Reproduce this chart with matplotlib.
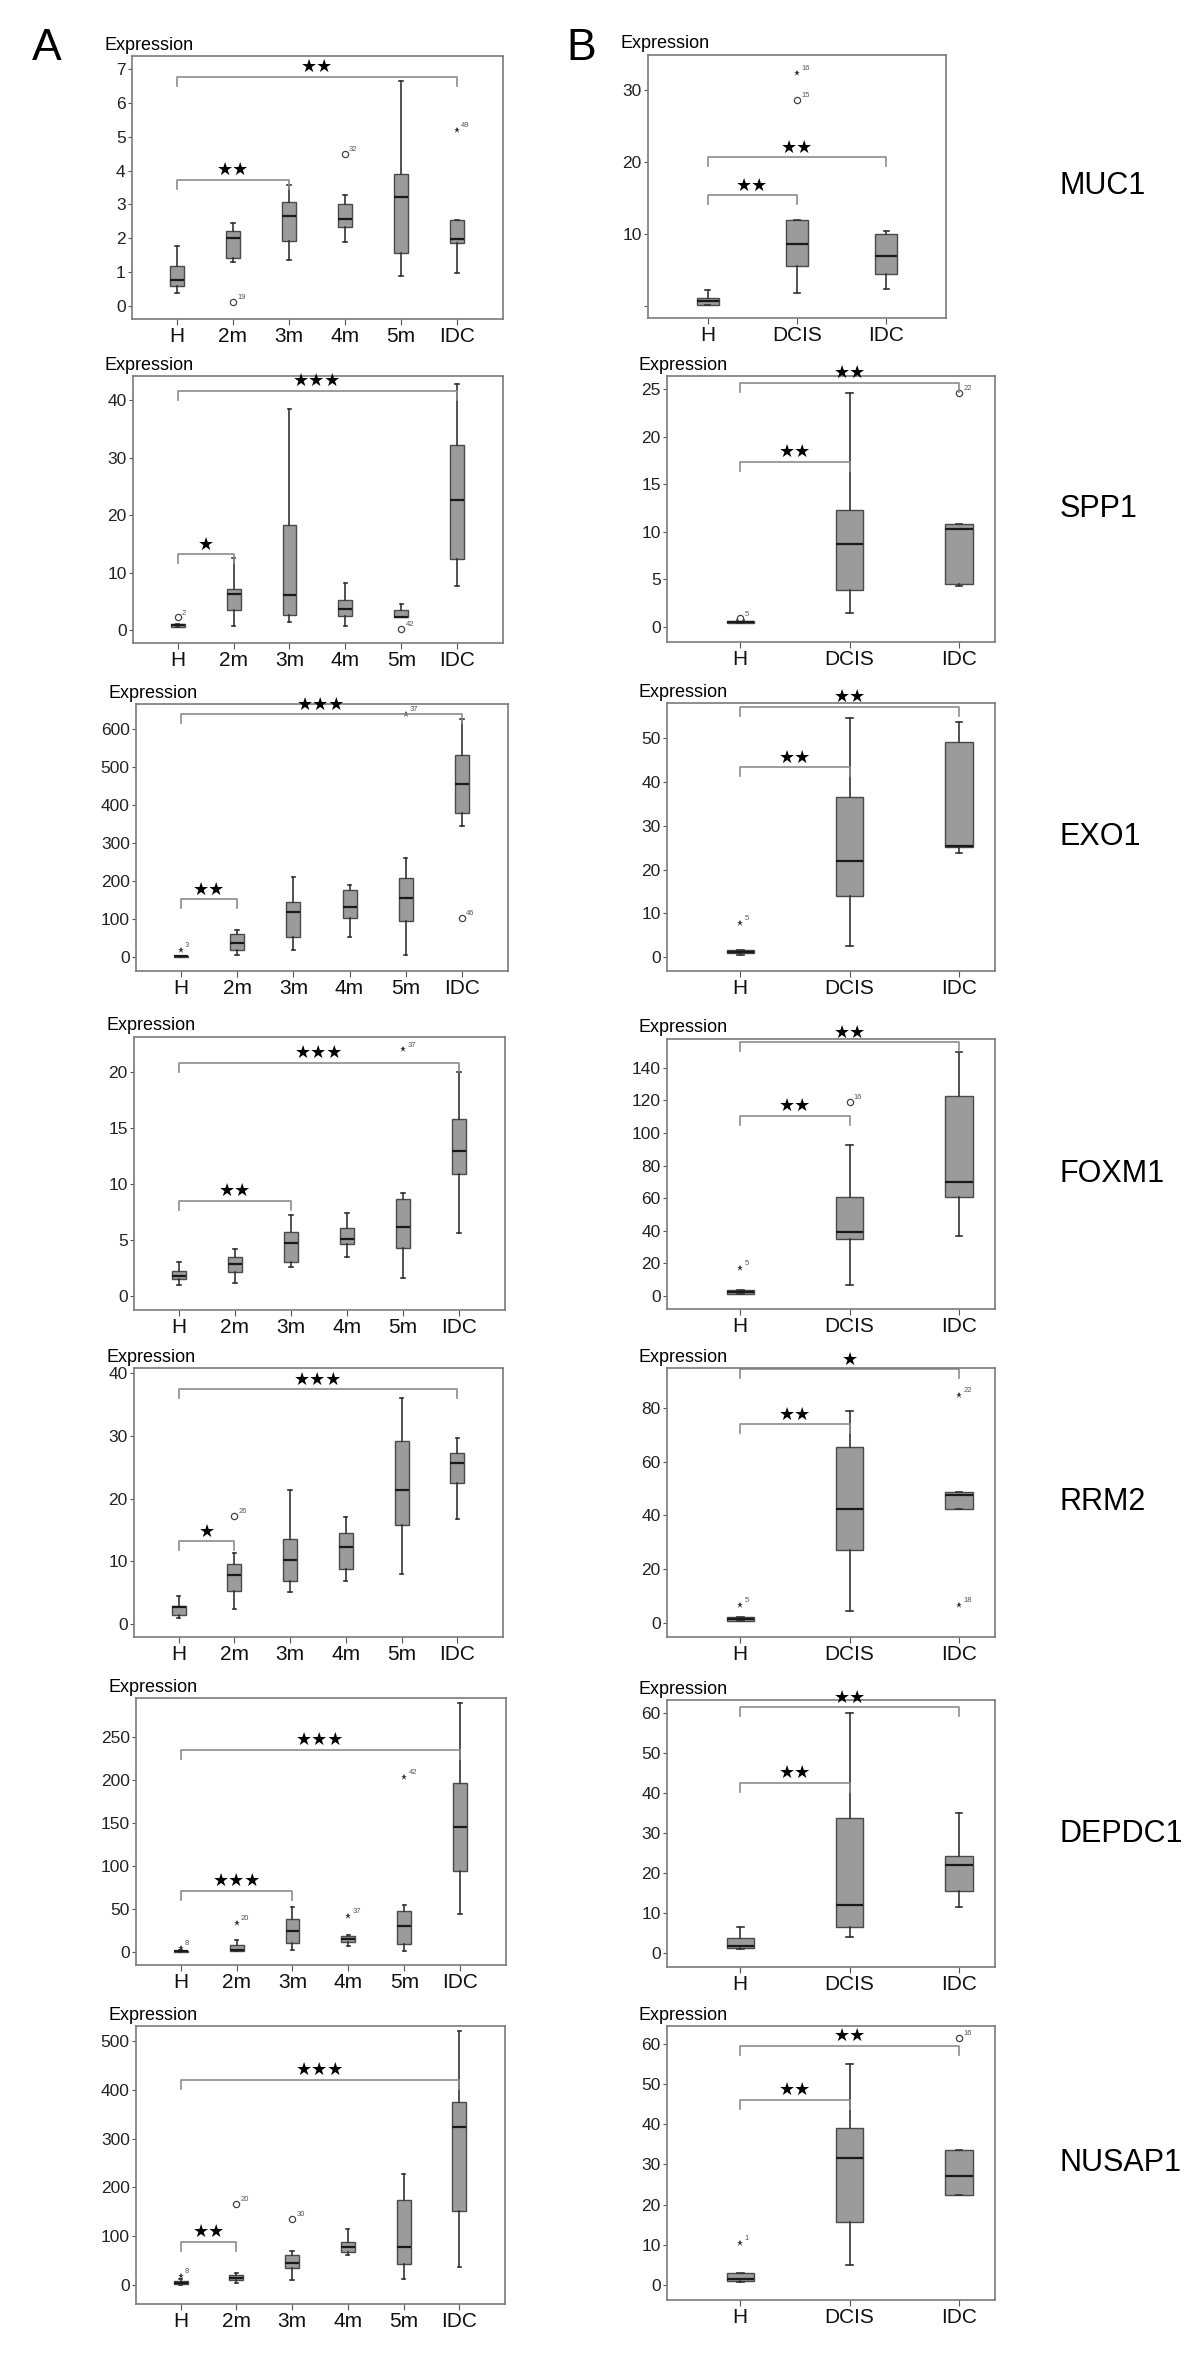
import matplotlib.pyplot as plt

plt.rcParams['font.family'] = ['Liberation Sans', 'DejaVu Sans']

W, H = 1200, 2361

stages_a = ['H', '2m', '3m', '4m', '5m', 'IDC']
stages_b = ['H', 'DCIS', 'IDC']
genes = ['MUC1', 'SPP1', 'EXO1', 'FOXM1', 'RRM2', 'DEPDC1', 'NUSAP1']

# box stats per group: (whisker low, q1, median, q3, whisker high)
muc1_a = [(0.38, 0.6, 0.78, 1.17, 1.78), (1.3, 1.43, 2.0, 2.22, 2.45), (1.35, 1.93, 2.65, 3.08, 3.58),
          (1.9, 2.33, 2.58, 3.02, 3.27), (0.9, 1.57, 3.22, 3.9, 6.65), (0.97, 1.85, 1.97, 2.53, 2.55)]
spp1_a = [(0.5, 0.6, 0.85, 1.0, 1.1), (0.7, 3.4, 6.3, 7.1, 12.6), (1.45, 2.55, 6.15, 18.2, 38.4),
          (0.7, 2.5, 3.6, 5.2, 8.1), (2.2, 2.2, 2.3, 3.5, 4.6), (7.7, 12.3, 22.6, 32.2, 42.8)]
exo1_a = [(0, 0.5, 1.5, 2.5, 3), (5, 19, 37, 60, 70), (17, 53, 118, 145, 210),
          (52, 102, 131, 177, 190), (6, 95, 155, 208, 260), (343, 379, 455, 531, 625)]
foxm1_a = [(1.0, 1.5, 1.8, 2.27, 3.07), (1.13, 2.1, 2.86, 3.5, 4.23), (2.56, 3.07, 4.77, 5.7, 7.18),
           (3.52, 4.62, 5.07, 6.1, 7.36), (1.64, 4.26, 6.17, 8.64, 9.15), (5.63, 10.9, 12.9, 15.8, 20.0)]
rrm2_a = [(1.0, 1.5, 2.7, 2.8, 4.4), (2.4, 5.2, 7.8, 9.6, 11.3), (5.1, 6.9, 10.2, 13.5, 21.4),
          (6.9, 8.8, 12.2, 14.5, 17.0), (7.9, 15.7, 21.3, 29.1, 36.0), (16.8, 22.4, 25.7, 27.2, 29.7)]
depdc1_a = [(0, 0.4, 1.0, 1.2, 2.0), (0.8, 0.8, 2.0, 8.5, 13.6), (2.7, 10.5, 24, 38.4, 52),
            (6.6, 11.2, 15.5, 19, 19.4), (0.8, 9.7, 30.2, 47.3, 55), (44, 94, 145, 196, 289)]
nusap1_a = [(0, 1, 4, 8, 12), (5, 10, 15, 20, 25), (10, 35, 46, 62, 70),
            (62, 68, 77, 88, 114), (12, 43, 77, 175, 228), (37, 151, 323, 375, 520)]

muc1_b = [(0.1, 0.2, 0.7, 1.1, 2.2), (1.8, 5.6, 8.6, 12.0, 12.0), (2.3, 4.5, 7.0, 10.0, 10.4)]
spp1_b = [(0.4, 0.45, 0.55, 0.65, 0.7), (1.5, 3.9, 8.7, 12.3, 24.6), (4.3, 4.55, 10.3, 10.85, 10.85)]
exo1_b = [(0.4, 0.9, 1.15, 1.7, 1.7), (2.5, 13.9, 22.0, 36.5, 54.7), (23.9, 25.2, 25.5, 49.1, 53.7)]
foxm1_b = [(1.0, 1.2, 2.3, 3.7, 3.7), (6.6, 34.8, 39.1, 60.9, 92.4), (36.5, 60.9, 69.7, 122.5, 149.6)]
rrm2_b = [(0.7, 0.9, 1.5, 2.1, 2.1), (4.3, 27.0, 42.5, 65.5, 78.9), (42.5, 42.5, 47.5, 48.7, 48.7)]
depdc1_b = [(1.0, 1.2, 1.8, 3.7, 6.5), (3.9, 6.5, 12.0, 33.7, 60), (11.6, 15.5, 21.9, 24.3, 35.0)]
nusap1_b = [(0.8, 1.0, 1.5, 3.0, 3.0), (5.0, 15.7, 31.5, 39, 55), (22.5, 22.5, 27, 33.7, 33.7)]

# outliers: (group, value, marker, case number)
muc1_a_out = [(1, 0.13, 'o', '19'), (3, 4.5, 'o', '32'), (5, 5.2, '*', '49')]
spp1_a_out = [(0, 2.2, 'o', '2'), (4, 0.2, 'o', '42')]
exo1_a_out = [(0, 19, '*', '3'), (4, 640, '*', '37'), (5, 103, 'o', '46')]
foxm1_a_out = [(4, 22.0, '*', '37')]
rrm2_a_out = [(1, 17.2, 'o', '26')]
depdc1_a_out = [(0, 4.7, '*', '8'), (1, 34, '*', '20'), (3, 42, '*', '37'), (4, 203.5, '*', '42')]
nusap1_a_out = [(0, 18, '*', '8'), (1, 166, 'o', '20'), (2, 135, 'o', '30')]

muc1_b_out = [(1, 28.7, 'o', '15'), (1, 32.4, '*', '16')]
spp1_b_out = [(0, 0.9, 'o', '5'), (2, 24.6, 'o', '22')]
exo1_b_out = [(0, 7.8, '*', '5')]
foxm1_b_out = [(0, 17.4, '*', '5'), (1, 118.9, 'o', '16')]
rrm2_b_out = [(0, 6.7, '*', '5'), (2, 84.7, '*', '22'), (2, 6.6, '*', '18')]
depdc1_b_out = []
nusap1_b_out = [(0, 10.5, '*', '1'), (2, 61.4, 'o', '16')]

# significance brackets: (from group, to group, height, stars)
muc1_a_sig = [(0, 5, 6.77, '**'), (0, 2, 3.73, '**')]
spp1_a_sig = [(0, 5, 41.6, '***'), (0, 1, 13.2, '*')]
exo1_a_sig = [(0, 5, 638, '***'), (0, 1, 151, '**')]
foxm1_a_sig = [(0, 5, 20.8, '***'), (0, 2, 8.5, '**')]
rrm2_a_sig = [(0, 5, 37.4, '***'), (0, 1, 13.2, '*')]
depdc1_a_sig = [(0, 5, 235, '***'), (0, 2, 71, '***')]
nusap1_a_sig = [(0, 5, 421, '***'), (0, 1, 89, '**')]

muc1_b_sig = [(0, 2, 20.7, '**'), (0, 1, 15.4, '**')]
spp1_b_sig = [(0, 2, 25.7, '**'), (0, 1, 17.4, '**')]
exo1_b_sig = [(0, 2, 57.2, '**'), (0, 1, 43.4, '**')]
foxm1_b_sig = [(0, 2, 155.7, '**'), (0, 1, 110.5, '**')]
rrm2_b_sig = [(0, 2, 94.3, '*'), (0, 1, 73.9, '**')]
depdc1_b_sig = [(0, 2, 61.5, '**'), (0, 1, 42.6, '**')]
nusap1_b_sig = [(0, 2, 59.5, '**'), (0, 1, 46, '**')]

# y axis ticks
ticks_a = [range(0, 8), range(0, 41, 10), range(0, 601, 100), range(0, 21, 5),
           range(0, 41, 10), range(0, 251, 50), range(0, 501, 100)]
ticks_b = [range(0, 31, 10), range(0, 26, 5), range(0, 51, 10), range(0, 141, 20),
           range(0, 81, 20), range(0, 61, 10), range(0, 61, 10)]

# layout (pixels): left, right, top, bottom, and y limits
boxes_a = [(132, 503, 56, 319), (133, 503, 376, 643), (136, 508, 704, 971), (134, 505, 1037, 1310),
           (134, 503, 1368, 1637), (136, 506, 1698, 1965), (136, 505, 2026, 2304)]
boxes_b = [(648, 946, 55, 318), (667, 995, 376, 642), (667, 995, 703, 971), (667, 995, 1039, 1309),
           (667, 995, 1368, 1637), (667, 995, 1700, 1967), (667, 995, 2026, 2300)]
ylims_a = [(-0.38, 7.38), (-2.26, 44.2), (-37, 665), (-1.25, 23.1), (-2.07, 40.8), (-15, 295), (-39, 531)]
ylims_b = [(-1.67, 34.9), (-1.58, 26.4), (-3.2, 58.1), (-8, 157.7), (-5.2, 94.8), (-3.5, 63.3), (-3.7, 64.4)]
xlims_b = [(-0.67, 2.67)] + [(-0.67, 2.33)] * 6

panels_a = [(muc1_a, muc1_a_out, muc1_a_sig), (spp1_a, spp1_a_out, spp1_a_sig),
            (exo1_a, exo1_a_out, exo1_a_sig), (foxm1_a, foxm1_a_out, foxm1_a_sig),
            (rrm2_a, rrm2_a_out, rrm2_a_sig), (depdc1_a, depdc1_a_out, depdc1_a_sig),
            (nusap1_a, nusap1_a_out, nusap1_a_sig)]
panels_b = [(muc1_b, muc1_b_out, muc1_b_sig), (spp1_b, spp1_b_out, spp1_b_sig),
            (exo1_b, exo1_b_out, exo1_b_sig), (foxm1_b, foxm1_b_out, foxm1_b_sig),
            (rrm2_b, rrm2_b_out, rrm2_b_sig), (depdc1_b, depdc1_b_out, depdc1_b_sig),
            (nusap1_b, nusap1_b_out, nusap1_b_sig)]

SPINE = '#7a7a7a'
BRACKET = '#8c8c8c'

fig = plt.figure(figsize=(W / 100, H / 100), dpi=100)


def draw(box, cats, stats, outs, sigs, ylim, yticks, xlim, hide_zero=False):
    l, r, t, b = box
    ax = fig.add_axes([l / W, 1 - b / H, (r - l) / W, (b - t) / H])
    bx = [dict(whislo=s[0], q1=s[1], med=s[2], q3=s[3], whishi=s[4], label=c)
          for s, c in zip(stats, cats)]
    ax.bxp(bx, positions=list(range(len(cats))), widths=0.25, patch_artist=True,
           showfliers=False, capwidths=0.06,
           boxprops=dict(facecolor='#9b9b9b', edgecolor='#4a4a4a', linewidth=1.0),
           medianprops=dict(color='#1a1a1a', linewidth=1.6),
           whiskerprops=dict(color='#333333', linewidth=1.2),
           capprops=dict(color='#333333', linewidth=1.2))
    for g, v, m, lab in outs:
        if m == 'o':
            ax.plot(g, v, 'o', ms=4.5, mfc='white', mec='#444444', mew=0.9)
        else:
            ax.plot(g, v, '*', ms=5, color='#333333', mew=0)
        ax.annotate(lab, (g, v), xytext=(3, 2), textcoords='offset points',
                    fontsize=5.5, color='#555555')
    span = ylim[1] - ylim[0]
    drop = 9.0 / (b - t) * span
    for i, j, y, stars in sigs:
        ax.plot([i, i, j, j], [y - drop, y, y, y - drop], color=BRACKET, lw=1.2)
        ax.annotate(stars.replace('*', '\u2605'), ((i + j) / 2, y), xytext=(0, 0.5),
                    textcoords='offset points', ha='center', va='bottom',
                    fontsize=13, family='DejaVu Sans')
    ax.set_xlim(*xlim)
    ax.set_ylim(*ylim)
    labels = [str(v) for v in yticks]
    if hide_zero:
        labels[0] = ''
    ax.set_yticks(list(yticks), labels)
    ax.tick_params(axis='y', labelsize=12.5, length=3, width=0.8, color='#555555', pad=1.5,
                   labelcolor='#222222')
    ax.tick_params(axis='x', labelsize=15, length=4, width=0.8, color='#555555', pad=2,
                   labelcolor='#111111')
    for sp in ax.spines.values():
        sp.set_color(SPINE)
        sp.set_linewidth(1.2)
    ax.annotate('Expression', (0, 1), xycoords='axes fraction', xytext=(-28, 11),
                textcoords='offset pixels', ha='left', va='center', fontsize=13)
    return ax


for k in range(7):
    stats, outs, sigs = panels_a[k]
    draw(boxes_a[k], stages_a, stats, outs, sigs, ylims_a[k], ticks_a[k], (-0.8, 5.82))
    stats, outs, sigs = panels_b[k]
    draw(boxes_b[k], stages_b, stats, outs, sigs, ylims_b[k], ticks_b[k], xlims_b[k],
         hide_zero=(k == 0))
    l, r, t, b = boxes_b[k]
    fig.text(1060 / W, 1 - (t + b) / 2 / H, genes[k], fontsize=22, va='center', ha='left')

fig.text(32 / W, 1 - 48 / H, 'A', fontsize=32, va='center', ha='left')
fig.text(566 / W, 1 - 48 / H, 'B', fontsize=32, va='center', ha='left')

fig.savefig('out.png', dpi=100, facecolor='white')
